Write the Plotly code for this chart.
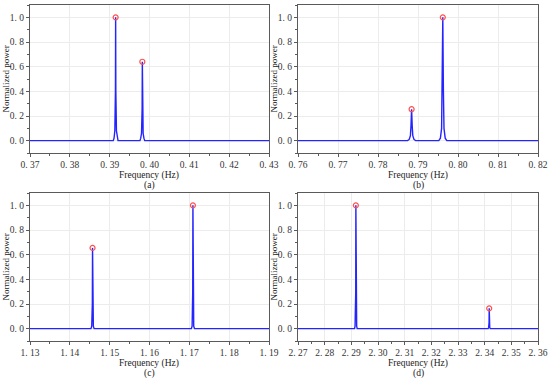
import plotly.graph_objects as go

# ---- data ----
# (a)
a_freq = [0.37, 0.3909, 0.3911, 0.3913, 0.39145, 0.3915, 0.39155, 0.3917, 0.3919, 0.3921,
          0.3976, 0.3978, 0.3980, 0.39815, 0.3982, 0.39825, 0.3984, 0.3986, 0.3988, 0.43]
a_pow = [0, 0, 0.02, 0.08, 0.4, 1.0, 0.4, 0.08, 0.02, 0,
         0, 0.02, 0.06, 0.26, 0.64, 0.26, 0.06, 0.02, 0, 0]
a_peak_f = [0.3915, 0.3982]
a_peak_p = [1.0, 0.64]

# (b)
b_freq = [0.76, 0.7874, 0.7878, 0.7881, 0.78825, 0.7884, 0.78855, 0.7887, 0.7890, 0.7894,
          0.7952, 0.7956, 0.7959, 0.79605, 0.7962, 0.79635, 0.7965, 0.7968, 0.7972, 0.82]
b_pow = [0, 0, 0.01, 0.04, 0.12, 0.255, 0.12, 0.04, 0.01, 0,
         0, 0.02, 0.1, 0.4, 1.0, 0.4, 0.1, 0.02, 0, 0]
b_peak_f = [0.7884, 0.7962]
b_peak_p = [0.255, 1.0]

# (c)
c_freq = [1.13, 1.1453, 1.1455, 1.14565, 1.1457, 1.14575, 1.1459, 1.1461,
          1.1705, 1.1707, 1.17085, 1.1709, 1.17095, 1.1711, 1.1713, 1.19]
c_pow = [0, 0, 0.02, 0.2, 0.655, 0.2, 0.02, 0,
         0, 0.02, 0.3, 1.0, 0.3, 0.02, 0, 0]
c_peak_f = [1.1457, 1.1709]
c_peak_p = [0.655, 1.0]

# (d)
d_freq = [2.27, 2.2912, 2.2914, 2.29165, 2.2917, 2.29175, 2.2920, 2.2922,
          2.3413, 2.3415, 2.34165, 2.3417, 2.34175, 2.3419, 2.3421, 2.36]
d_pow = [0, 0, 0.02, 0.3, 1.0, 0.3, 0.02, 0,
         0, 0.01, 0.05, 0.165, 0.05, 0.01, 0, 0]
d_peak_f = [2.2917, 2.3417]
d_peak_p = [1.0, 0.165]

panels = [
    ("(a)", a_freq, a_pow, a_peak_f, a_peak_p, [0.37, 0.43], [0.37, 0.38, 0.39, 0.40, 0.41, 0.42, 0.43]),
    ("(b)", b_freq, b_pow, b_peak_f, b_peak_p, [0.76, 0.82], [0.76, 0.77, 0.78, 0.79, 0.80, 0.81, 0.82]),
    ("(c)", c_freq, c_pow, c_peak_f, c_peak_p, [1.13, 1.19], [1.13, 1.14, 1.15, 1.16, 1.17, 1.18, 1.19]),
    ("(d)", d_freq, d_pow, d_peak_f, d_peak_p, [2.27, 2.36],
     [2.27, 2.28, 2.29, 2.30, 2.31, 2.32, 2.33, 2.34, 2.35, 2.36]),
]
y_ticks = [0.0, 0.2, 0.4, 0.6, 0.8, 1.0]

W, H = 550, 378
# pixel boxes of plot areas: (left, right, top, bottom)
boxes = [(30, 269, 5, 153), (298, 538, 5, 153), (30, 269, 193, 341), (298, 538, 193, 341)]

FONT = "Liberation Serif"
FRAME = "#5a5a5a"

def fmt(v, nd):
    s = f"{v:.{nd}f}"
    return s.replace(".", ". ")

fig = go.Figure()
annotations = []
layout = {}
for i, (lab, fx, py, pf, pp, xr, xt) in enumerate(panels):
    n = i + 1
    xa = "x" if n == 1 else f"x{n}"
    ya = "y" if n == 1 else f"y{n}"
    fig.add_trace(go.Scatter(x=fx, y=py, mode="lines", xaxis=xa, yaxis=ya,
                             line=dict(color="#2424ff", width=1.4), showlegend=False,
                             hoverinfo="skip"))
    fig.add_trace(go.Scatter(x=pf, y=pp, mode="markers", xaxis=xa, yaxis=ya,
                             marker=dict(symbol="circle-open", size=5, color="#ff5050",
                                         line=dict(width=1.2)),
                             showlegend=False))
    l, r, t, b = boxes[i]
    xd = [l / W, r / W]
    yd = [1 - b / H, 1 - t / H]
    xkey = "xaxis" if n == 1 else f"xaxis{n}"
    ykey = "yaxis" if n == 1 else f"yaxis{n}"
    common = dict(showline=True, linecolor=FRAME, linewidth=1, mirror=True,
                  ticks="outside", ticklen=3, tickcolor=FRAME, tickwidth=1,
                  showgrid=True, gridcolor="#ececec", gridwidth=1, zeroline=False,
                  automargin=False,
                  tickfont=dict(family=FONT, size=9.5, color="#333333"))
    layout[xkey] = dict(common, domain=xd, range=xr, anchor=ya,
                        tickvals=xt, ticktext=[fmt(v, 2) for v in xt],
                        minor=dict(ticks="outside", ticklen=2, tickcolor=FRAME,
                                   dtick=0.005, showgrid=False))
    layout[ykey] = dict(common, domain=yd, range=[-0.1, 1.1], anchor=xa,
                        tickvals=y_ticks, ticktext=[fmt(v, 1) for v in y_ticks],
                        minor=dict(ticks="outside", ticklen=2, tickcolor=FRAME,
                                   dtick=0.1, showgrid=False))
    cx = (l + r) / 2
    off = t - 5
    txt_font = dict(family=FONT, size=9.5, color="#222222")
    annotations.append(dict(text="Frequency (Hz)", x=cx / W, y=1 - (175 + off) / H,
                            xref="paper", yref="paper", showarrow=False,
                            xanchor="center", yanchor="middle", font=txt_font))
    annotations.append(dict(text=lab, x=cx / W, y=1 - (185.5 + off) / H,
                            xref="paper", yref="paper", showarrow=False,
                            xanchor="center", yanchor="middle", font=txt_font))
    annotations.append(dict(text="Normalized power", x=(l - 24.5) / W, y=1 - (t + b) / 2 / H,
                            xref="paper", yref="paper", showarrow=False, textangle=-90,
                            xanchor="center", yanchor="middle",
                            font=dict(family=FONT, size=9, color="#222222")))

fig.update_layout(width=W, height=H, margin=dict(l=0, r=0, t=0, b=0),
                  paper_bgcolor="white", plot_bgcolor="white",
                  annotations=annotations, **layout)
fig.write_html("out.html", config={"displayModeBar": False},
               post_script="document.body.style.margin='0';document.body.style.overflow='hidden';")
